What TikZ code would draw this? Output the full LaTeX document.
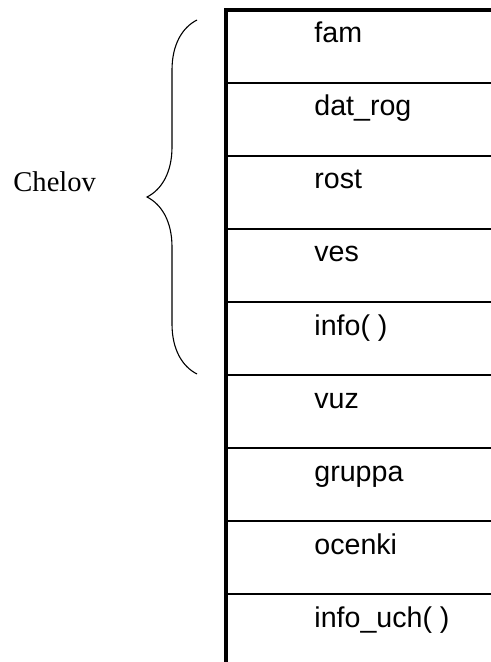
\documentclass[tikz,border=0pt]{standalone}
\usepackage{fontspec}
\setmainfont{Liberation Serif}
\setsansfont{Liberation Sans}
\usetikzlibrary{decorations.pathreplacing}

\begin{document}
\begin{tikzpicture}[
  x=0.5pt, y=-0.5pt,
  field/.style={anchor=base west, inner sep=0pt, font=\sffamily\fontsize{14.3}{17}\selectfont},
  caption/.style={anchor=base west, inner sep=0pt, font=\rmfamily\fontsize{14.3}{17}\selectfont},
  divider/.style={line width=0.8pt},
  border/.style={line width=1.7pt, line cap=rect},
  curly/.style={decorate, decoration={brace, amplitude=25pt}, line width=0.55pt}
]
\useasboundingbox (0,0) rectangle (491,662);
\foreach \name/\txt [count=\i from 0] in {fam/fam, datrog/dat\_rog, rost/rost, ves/ves, info/info( ), vuz/vuz, gruppa/gruppa, ocenki/ocenki, infouch/info\_uch( )}
  \node[field] (\name) at (314,43+73*\i) {\txt};
\foreach \i in {1,...,8}
  \draw[divider] (226,10+73*\i) -- (491,10+73*\i);
\draw[border] (491,10) -- (226,10) -- (226,663);
\coordinate (bracetop) at (197,20);
\coordinate (bracebot) at (197,374);
\draw[curly] (bracebot) -- (bracetop);
\node[caption] (chelov) at (13,192) {Chelov};
\end{tikzpicture}
\end{document}
